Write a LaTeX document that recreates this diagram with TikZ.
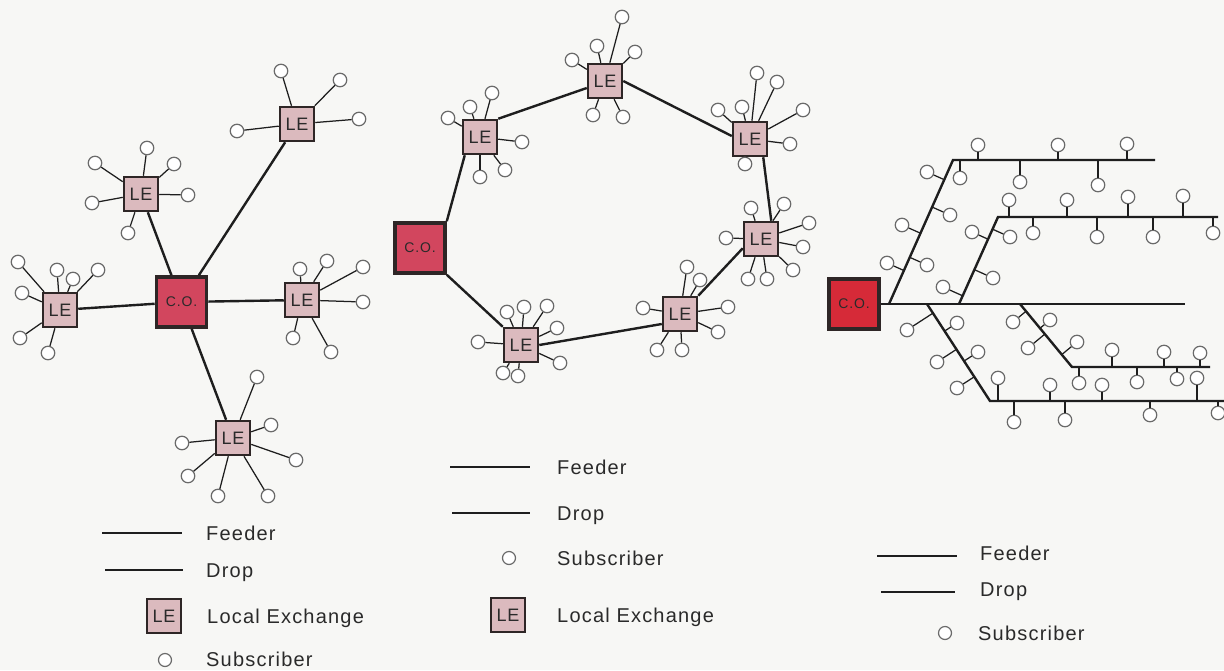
\documentclass[tikz,border=0pt]{standalone}
\usepackage{fontspec}
\setmainfont{Liberation Sans}
\newfontfamily\labfont[LetterSpace=6]{Liberation Sans}
\newfontfamily\boxfont[LetterSpace=5]{Liberation Sans}
\usetikzlibrary{calc}
\definecolor{bgc}{HTML}{F7F7F5}
\definecolor{lefill}{HTML}{DBBABE}
\definecolor{cofill}{HTML}{D2465E}
\definecolor{cotree}{HTML}{D62A38}
\definecolor{edgec}{HTML}{2E2626}
\definecolor{linec}{HTML}{1E1E1E}
\definecolor{subc}{HTML}{6A6A6A}
\definecolor{txtc}{HTML}{2A2A2A}
\newcommand\subsof[2]{\foreach \sx/\sy [count=\sidx] in {#2}{%
  \node[sub] (#1-s\sidx) at (\sx,\sy) {};
  \draw[drop] (#1) -- (#1-s\sidx);}}
\newcommand\tsubs[4]{\foreach \sx/\sy [count=\sidx] in {#4}{%
  \node[sub] (#1-s\sidx) at (\sx,\sy) {};
  \draw[drop] ($(#2)!(#1-s\sidx)!(#3)$) -- (#1-s\sidx);}}
\begin{document}
\begin{tikzpicture}[x=1pt,y=-1pt,
  lebox/.style={draw=edgec, line width=2.5pt, fill=lefill, minimum size=34pt, inner sep=0pt,
    text=txtc, font=\boxfont\fontsize{18}{18}\selectfont},
  cobox/.style={draw=edgec, line width=3.6pt, fill=cofill, minimum size=50pt, inner sep=0pt,
    text=txtc, font=\labfont\fontsize{14}{14}\selectfont},
  sub/.style={circle, draw=subc, fill=white, line width=1.2pt, minimum size=13.5pt, inner sep=0pt},
  feeder/.style={draw=linec, line width=2.4pt},
  drop/.style={draw=linec, line width=1.25pt},
  lab/.style={anchor=base west, inner sep=0pt, text=txtc, font=\labfont\fontsize{20}{20}\selectfont}]
\fill[bgc] (0,0) rectangle (1224,670);
\useasboundingbox (0,0) rectangle (1224,670);

% ---------------- Star ----------------
\node[cobox] (sco) at (181.5,302) {C.O.};
\node[lebox] (sleT) at (141,194) {LE};
\node[lebox] (sleU) at (297,124) {LE};
\node[lebox] (sleL) at (60,310) {LE};
\node[lebox] (sleR) at (302,300) {LE};
\node[lebox] (sleB) at (233,438) {LE};
\foreach \n in {sleT,sleU,sleL,sleR,sleB} \draw[feeder] (sco) -- (\n);
\subsof{sleT}{95/163,147/148,174/164,188/195,92/203,128/233}
\subsof{sleU}{281/71,340/80,359/119,237/131}
\subsof{sleL}{18/262,57/270,73/279,98/270,22/293,20/338,48/353}
\subsof{sleR}{300/269,327/261,363/267,363/302,293/338,331/352}
\subsof{sleB}{257/377,271/425,296/460,182/443,188/476,218/496,268/496}

% ---------------- Ring ----------------
\node[cobox] (rco) at (420,248) {C.O.};
\node[lebox] (r1) at (480,137) {LE};
\node[lebox] (r2) at (605,81) {LE};
\node[lebox] (r3) at (750,139) {LE};
\node[lebox] (r4) at (761,239) {LE};
\node[lebox] (r5) at (680,314) {LE};
\node[lebox] (r6) at (521,345) {LE};
\draw[feeder] (rco.north east) -- ([xshift=3pt]r1.south west);
\draw[feeder] (r1.north east) -- ([yshift=-7pt]r2.west);
\draw[feeder] (r2.east) -- ([yshift=3pt]r3.west);
\draw[feeder] ([xshift=-5pt]r3.south east) -- ([xshift=-8pt]r4.north east);
\draw[feeder] ([yshift=9pt]r4.south west) -- (r5.north east);
\draw[feeder] ([yshift=-10pt]r5.west) -- (r6.east);
\draw[feeder] (rco.south east) -- (r6.north west);
\subsof{r1}{448/118,470/107,492/93,522/142,505/170,480/177}
\subsof{r2}{622/17,572/60,597/46,635/52,593/115,623/117}
\subsof{r3}{757/73,777/82,718/110,742/107,803/110,790/144,745/164}
\subsof{r4}{751/208,784/204,726/238,809/223,803/247,793/270,767/279,748/279}
\subsof{r5}{687/267,700/280,643/308,728/307,718/332,657/350,682/350}
\subsof{r6}{507/312,524/307,547/306,557/328,478/342,560/363,503/373,518/376}

% ---------------- Tree ----------------
\node[cobox, fill=cotree] (tco) at (854,304) {C.O.};
\coordinate (mend) at (1185,304);
\coordinate (b1a) at (889,304); \coordinate (b1b) at (953,160); \coordinate (b1c) at (1155,160);
\coordinate (b2a) at (959,304); \coordinate (b2b) at (998,217); \coordinate (b2c) at (1218,217);
\coordinate (b3a) at (927,304); \coordinate (b3b) at (990,401); \coordinate (b3c) at (1224,401);
\coordinate (b4a) at (1020,304); \coordinate (b4b) at (1072,367); \coordinate (b4c) at (1210,367);
\draw[feeder] (tco.east) -- (mend);
\draw[feeder] (b1a) -- (b1b) -- (b1c);
\draw[feeder] (b2a) -- (b2b) -- (b2c);
\draw[feeder] (b3a) -- (b3b) -- (b3c);
\draw[feeder] (b4a) -- (b4b) -- (b4c);
\tsubs{d1}{b1a}{b1b}{927/172,902/225,887/263,950/215,927/265}
\tsubs{h1}{b1b}{b1c}{960/178,978/145,1058/145,1127/144,1020/182,1098/185}
\tsubs{d2}{b2a}{b2b}{972/232,943/287,1010/237,993/278}
\tsubs{h2}{b2b}{b2c}{1009/200,1067/200,1128/197,1183/196,1033/233,1097/237,1153/237,1213/233}
\tsubs{d3}{b3a}{b3b}{907/330,937/362,957/388,957/323,978/352}
\tsubs{h3}{b3b}{b3c}{998/378,1050/385,1102/385,1197/378,1014/422,1065/420,1150/415,1218/413}
\tsubs{d4}{b4a}{b4b}{1013/322,1028/348,1050/320,1077/342}
\tsubs{h4}{b4b}{b4c}{1112/350,1164/352,1200/353,1079/383,1137/382,1177/379}

% ---------------- Legend 1 ----------------
\coordinate (l1fa) at (102,533); \coordinate (l1fb) at (182,533);
\coordinate (l1da) at (105,570); \coordinate (l1db) at (183,570);
\draw[feeder] (l1fa) -- (l1fb);
\draw[drop] (l1da) -- (l1db);
\node[lebox] (l1le) at (164,616) {LE};
\node[sub, minimum size=13pt] (l1s) at (165,660) {};
\node[lab] (l1t1) at (206,540.5) {Feeder};
\node[lab] (l1t2) at (206,577.5) {Drop};
\node[lab] (l1t3) at (207,623.5) {Local Exchange};
\node[lab] (l1t4) at (206,666) {Subscriber};

% ---------------- Legend 2 ----------------
\coordinate (l2fa) at (450,467); \coordinate (l2fb) at (530,467);
\coordinate (l2da) at (452,513); \coordinate (l2db) at (530,513);
\draw[feeder] (l2fa) -- (l2fb);
\draw[drop] (l2da) -- (l2db);
\node[sub, minimum size=13pt] (l2s) at (509,558) {};
\node[lebox] (l2le) at (508,615) {LE};
\node[lab] (l2t1) at (557,474.5) {Feeder};
\node[lab] (l2t2) at (557,520.5) {Drop};
\node[lab] (l2t3) at (557,565.5) {Subscriber};
\node[lab] (l2t4) at (557,622.5) {Local Exchange};

% ---------------- Legend 3 ----------------
\coordinate (l3fa) at (877,556); \coordinate (l3fb) at (957,556);
\coordinate (l3da) at (881,592); \coordinate (l3db) at (955,592);
\draw[feeder] (l3fa) -- (l3fb);
\draw[drop] (l3da) -- (l3db);
\node[sub, minimum size=13pt] (l3s) at (945,633) {};
\node[lab] (l3t1) at (980,560.5) {Feeder};
\node[lab] (l3t2) at (980,596.5) {Drop};
\node[lab] (l3t3) at (978,640.5) {Subscriber};
\end{tikzpicture}
\end{document}
